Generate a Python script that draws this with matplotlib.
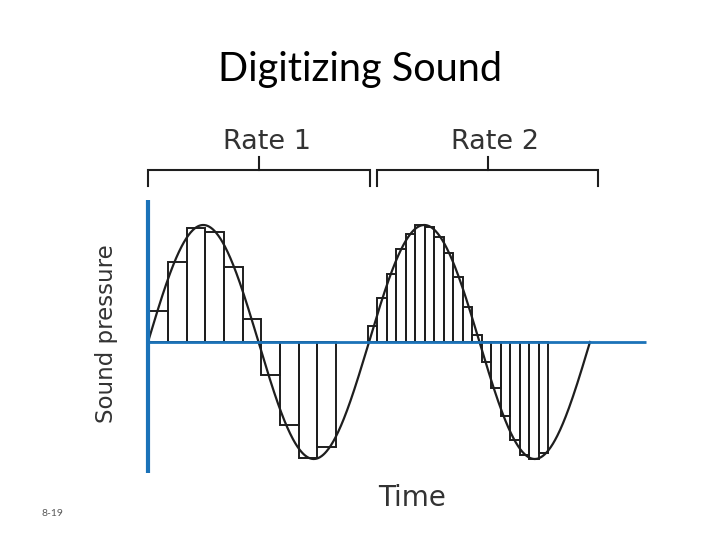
import numpy as np
import matplotlib
matplotlib.use("Agg")
import matplotlib.pyplot as plt

# ---------------- data ----------------
title = "Digitizing Sound"
rate_labels = ["Rate 1", "Rate 2"]
y_label = "Sound pressure"
x_label = "Time"
slide_number = "8-19"

n_cycles = 2                      # analog signal: two full sine periods
# sampled (held) values, relative to the sine amplitude
rate1_values = [0.265, 0.684, 0.974, 0.940, 0.641, 0.197,
                -0.282, -0.709, -0.991, -0.897]
rate2_values = [0.137, 0.376, 0.581, 0.795, 0.923, 1.000, 0.983, 0.897,
                0.761, 0.556, 0.299, 0.060,
                -0.168, -0.396, -0.632, -0.838, -0.966, -1.000, -0.951]
# sample instants (in periods of the signal)
rate1_start, rate1_step = 0.006, 0.0845
rate2_start, rate2_step = 0.995, 0.0429

# ---------------- layout ----------------
W, H = 720, 540
X0, PER, Y0, AMP = 148, 221, 342, 117   # pixel placement of the signal axes


def px2x(px):
    return (px - X0) / PER


def px2y(py):
    return (Y0 - py) / AMP


BLUE = "#1b72b8"
INK = "#1e1e1e"
GREY = "#333333"

fig = plt.figure(figsize=(W / 100, H / 100), dpi=100)
ax = fig.add_axes([0, 0, 1, 1])
ax.set_xlim(px2x(0), px2x(W))
ax.set_ylim(px2y(H), px2y(0))
ax.axis("off")

# sampled bars
x1 = rate1_start + rate1_step * np.arange(len(rate1_values))
ax.bar(x1, rate1_values, width=rate1_step, align="edge", fill=False,
       edgecolor=INK, linewidth=1.4, zorder=2)
x2 = rate2_start + rate2_step * np.arange(len(rate2_values))
ax.bar(x2, rate2_values, width=rate2_step, align="edge", fill=False,
       edgecolor=INK, linewidth=1.4, zorder=2)

# analog signal
t = np.linspace(0, n_cycles, 800)
ax.plot(t, np.sin(2 * np.pi * t), color=INK, lw=1.6, zorder=3)

# blue axes
ax.plot([px2x(148), px2x(646)], [0, 0], color=BLUE, lw=2.0, zorder=4,
        solid_capstyle="butt")
ax.plot([px2x(147.5), px2x(147.5)], [px2y(200), px2y(473)], color=BLUE,
        lw=3.0, zorder=4, solid_capstyle="butt")

# brackets
for (xl, xr, xm), lab, lx in zip([(148, 370, 259), (377, 598, 488)],
                                 rate_labels, [267, 495]):
    ax.plot([px2x(xl), px2x(xl), px2x(xr), px2x(xr)],
            [px2y(186), px2y(170), px2y(170), px2y(186)],
            color=INK, lw=1.5, solid_joinstyle="miter", zorder=2)
    ax.plot([px2x(xm), px2x(xm)], [px2y(170), px2y(157)], color=INK,
            lw=1.5, zorder=2)
    fig.text(lx / W, 1 - 142 / H, lab, ha="center", va="center",
             fontsize=19.5, color=GREY, family="DejaVu Sans")

# texts
fig.text(360 / W, 1 - 69 / H, title, ha="center", va="center",
         fontsize=28.5, color="black", family=["Lato", "DejaVu Sans"])
fig.text(107 / W, 1 - 334 / H, y_label, ha="center", va="center",
         rotation=90, fontsize=16.5, color=GREY, family="DejaVu Sans")
fig.text(412.5 / W, 1 - 498 / H, x_label, ha="center", va="center",
         fontsize=20, color=GREY, family="DejaVu Sans")
fig.text(52 / W, 1 - 514 / H, slide_number, ha="center", va="center",
         fontsize=7.5, color="#595959", family=["Lato", "DejaVu Sans"])

fig.savefig("out.png", dpi=100)
